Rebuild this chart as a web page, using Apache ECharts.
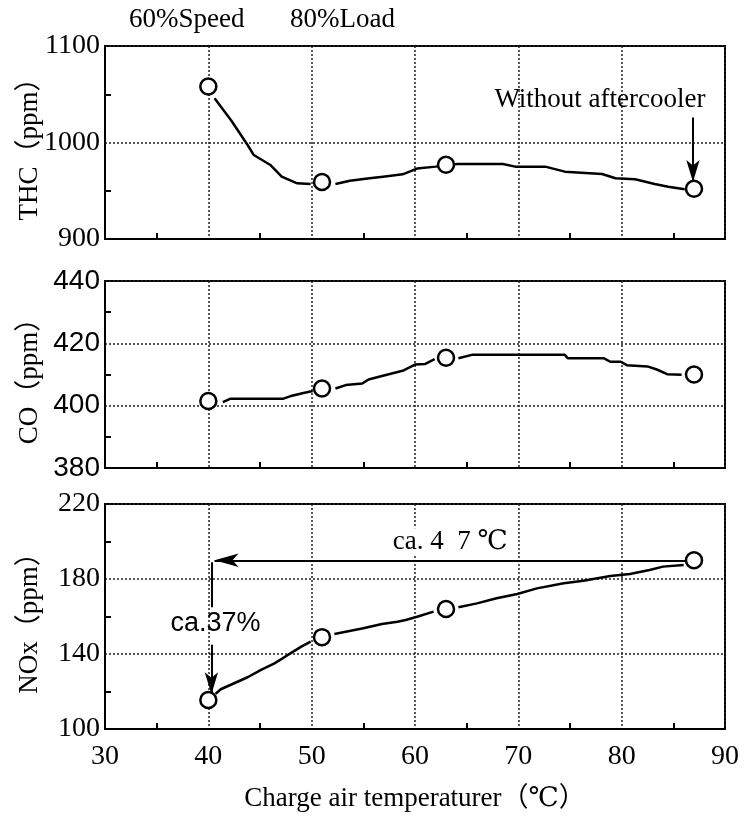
<!DOCTYPE html>
<html>
<head>
<meta charset="utf-8">
<script src="https://cdn.jsdelivr.net/npm/echarts@6/dist/echarts.min.js"></script>
<style>
  html, body { margin: 0; padding: 0; background: #fff; }
  #chart { width: 749px; height: 820px; }
</style>
</head>
<body>
<div id="chart"></div>
<script>
// Measured operating points (charge air temperature, °C)
const pointTemp = [40, 51, 63, 87];
const thcPoints = [1058, 959, 977, 952];
const coPoints = [401.5, 405.5, 415.4, 410];
const noxPoints = [115.5, 149, 164, 190];

// Recorded traces between the points; null marks a break in the pen trace
const thcTraceTemp = [40.6, 42.2, 43.8, 44.4, 46.0, 47.1, 48.6, 49.9, null,
  52.3, 53.7, 55.6, 56.9, 58.8, 60.2, 62.0, 64.1, 68.5, 69.7, 72.6, 74.5, 78.1, 79.4, 81.3, 83.2, 84.5, 86.1];
const thcTrace = [1045.8, 1023, 997.4, 987, 976.7, 964.6, 957.7, 957, null,
  957, 960.4, 962.9, 964.6, 967, 973, 975, 977.7, 977.7, 975, 975, 969.8, 967.4, 962.9, 961.9, 957, 954.2, 951.5];

const coTraceTemp = [41.4, 42.1, 47.2, 47.9, 49.1, 50.1, null,
  52.3, 53.3, 54.9, 55.5, 56.8, 58.8, 60.0, 61.0, 61.9, null,
  64.2, 65.5, 74.5, 74.8, 78.3, 78.9, 79.9, 80.5, 82.5, 83.4, 84.4, 85.8];
const coTrace = [401.1, 402.2, 402.2, 403, 404, 404.7, null,
  405.5, 406.6, 407.1, 408.4, 409.5, 411.2, 413.2, 413.4, 414.9, null,
  415.2, 416.3, 416.3, 415.2, 415.2, 414.1, 414.1, 413.0, 412.6, 411.6, 410.1, 409.9];

const noxTraceTemp = [40.7, 41.2, 42.5, 43.8, 45.1, 46.4, 47.7, 49.0, 49.9, null,
  52.2, 55.0, 56.8, 58.3, 59.1, 60.2, 61.8, null,
  64.2, 66.0, 67.9, 69.9, 71.8, 74.4, 76.3, 78.9, 80.8, 82.7, 84.0, 86.0];
const noxTrace = [118.7, 121.2, 124.4, 127.6, 131.5, 135, 139.5, 143.9, 146.6, null,
  150.7, 153.7, 156, 157.2, 158.1, 159.9, 162.6, null,
  164.9, 167, 169.7, 172, 175, 177.7, 179.1, 181.6, 182.7, 184.8, 186.6, 187.5];

// Axis ranges: [min, max, step]
const tempAxis = [30, 90, 10];
const thcAxis = [900, 1100, 100];
const coAxis = [380, 440, 20];
const noxAxis = [100, 220, 40];

// Axis titles and annotation texts
const headerLeft = '60%Speed';
const headerRight = '80%Load';
const axisTitles = ['THC（ppm）', 'CO（ppm）', 'NOx（ppm）'];
const xTitle = 'Charge air temperaturer（℃）';
const noteAftercooler = 'Without aftercooler';
const noteDeltaT = 'ca. 4  7 ℃';
const noteReduction = 'ca.37%';

const SERIF = "'Liberation Serif', 'DejaVu Serif', 'Noto Sans CJK JP', serif";
const SANS = "'Liberation Sans Narrow', 'Liberation Sans', 'Noto Sans CJK JP', sans-serif";
const FS = 27;

const panels = [
  { top: 46, height: 193, axis: thcAxis, pts: thcPoints, tx: thcTraceTemp, ty: thcTrace, labelFont: SERIF },
  { top: 281, height: 187, axis: coAxis, pts: coPoints, tx: coTraceTemp, ty: coTrace, labelFont: SANS },
  { top: 504, height: 225, axis: noxAxis, pts: noxPoints, tx: noxTraceTemp, ty: noxTrace, labelFont: SERIF }
];

// split a trace into continuous runs at null separators
function segments(xs, ys) {
  const out = [];
  let cur = [];
  xs.forEach((x, i) => {
    if (x === null || ys[i] === null) {
      if (cur.length) out.push(cur);
      cur = [];
    } else {
      cur.push([x, ys[i]]);
    }
  });
  if (cur.length) out.push(cur);
  return out;
}

const dotted = { type: [2, 2], color: '#222', width: 1.5 };

const grid = panels.map(p => ({
  left: 105, width: 620, top: p.top, height: p.height,
  show: true, borderColor: '#000', borderWidth: 2, backgroundColor: 'transparent'
}));

const xAxis = panels.map((p, i) => ({
  type: 'value', gridIndex: i,
  min: tempAxis[0], max: tempAxis[1], interval: tempAxis[2],
  axisLine: { show: true, onZero: false, lineStyle: { color: '#000', width: 2 } },
  axisTick: { show: false, inside: true },
  minorTick: { show: true, splitNumber: 2, length: 6, lineStyle: { color: '#000', width: 2 } },
  splitLine: { show: true, lineStyle: dotted },
  axisLabel: {
    show: i === 2, margin: 14, color: '#000', fontFamily: SERIF, fontSize: 28,
    formatter: v => String(v)
  },
  name: i === 2 ? xTitle : '',
  nameLocation: 'middle', nameGap: 56, nameMoveOverlap: false,
  nameTextStyle: { color: '#000', fontFamily: SERIF, fontSize: FS }
}));

const yAxis = panels.map((p, i) => ({
  type: 'value', gridIndex: i,
  min: p.axis[0], max: p.axis[1], interval: p.axis[2],
  axisLine: { show: true, onZero: false, lineStyle: { color: '#000', width: 2 } },
  axisTick: { show: false, inside: true },
  minorTick: { show: true, splitNumber: 2, length: 6, lineStyle: { color: '#000', width: 2 } },
  splitLine: { show: true, lineStyle: dotted },
  axisLabel: {
    margin: 5, color: '#000', fontFamily: p.labelFont, fontSize: 28,
    showMinLabel: true, showMaxLabel: true,
    formatter: v => String(v)
  },
  name: axisTitles[i],
  nameLocation: 'middle', nameRotate: 90, nameGap: 62, nameMoveOverlap: false,
  nameTextStyle: { color: '#000', fontFamily: SERIF, fontSize: FS }
}));

const series = [];
panels.forEach((p, i) => {
  segments(p.tx, p.ty).forEach(seg => {
    series.push({
      type: 'line', xAxisIndex: i, yAxisIndex: i, data: seg,
      showSymbol: false, silent: true, z: 3,
      lineStyle: { color: '#000', width: 2.5 }
    });
  });
});

const arrowLine = { color: '#000', width: 2, type: 'solid' };

// measured points, with the annotations attached to each panel
const annotations = [
  {
    markLine: {
      silent: true, symbol: ['none', 'arrow'], symbolSize: [10, 22],
      lineStyle: arrowLine, label: { show: false },
      data: [[{ coord: [86.9, 1026] }, { coord: [86.9, 959] }]]
    },
    markPoint: {
      silent: true, symbol: 'circle', symbolSize: 0,
      label: { show: true, position: 'inside', formatter: noteAftercooler, color: '#000', fontFamily: SERIF, fontSize: FS },
      data: [{ coord: [77.9, 1044] }]
    }
  },
  null,
  {
    markLine: {
      silent: true, lineStyle: arrowLine,
      data: [
        [{ coord: [86.2, 190], symbol: 'none' },
         { coord: [40.6, 190], symbol: 'arrow', symbolSize: [10, 24],
           label: { show: true, position: 'middle', formatter: noteDeltaT, color: '#000',
                    fontFamily: SERIF, fontSize: FS, backgroundColor: '#fff', padding: [0, 4] } }],
        [{ coord: [40.3, 189], symbol: 'none' },
         { coord: [40.3, 165], symbol: 'none', label: { show: false } }],
        [{ coord: [40.3, 145], symbol: 'none' },
         { coord: [40.3, 118.5], symbol: 'arrow', symbolSize: [10, 22], label: { show: false } }]
      ]
    },
    markPoint: {
      silent: true, symbol: 'circle', symbolSize: 0,
      label: { show: true, position: 'inside', formatter: noteReduction, color: '#000', fontFamily: SANS, fontSize: FS },
      data: [{ coord: [40.7, 156] }]
    }
  }
];

panels.forEach((p, i) => {
  const s = {
    type: 'scatter', xAxisIndex: i, yAxisIndex: i, z: 5, silent: true,
    data: pointTemp.map((t, k) => [t, p.pts[k]]),
    symbol: 'circle', symbolSize: 16,
    itemStyle: { color: '#fff', borderColor: '#000', borderWidth: 2.5, opacity: 1 }
  };
  if (annotations[i]) Object.assign(s, annotations[i]);
  series.push(s);
});

const chart = echarts.init(document.getElementById('chart'));
chart.setOption({
  animation: false,
  backgroundColor: '#fff',
  title: [
    { text: headerLeft, left: 124, top: 1, textStyle: { color: '#000', fontFamily: SERIF, fontSize: FS, fontWeight: 'normal' } },
    { text: headerRight, left: 285, top: 1, textStyle: { color: '#000', fontFamily: SERIF, fontSize: FS, fontWeight: 'normal' } }
  ],
  grid, xAxis, yAxis, series
});
</script>
</body>
</html>
